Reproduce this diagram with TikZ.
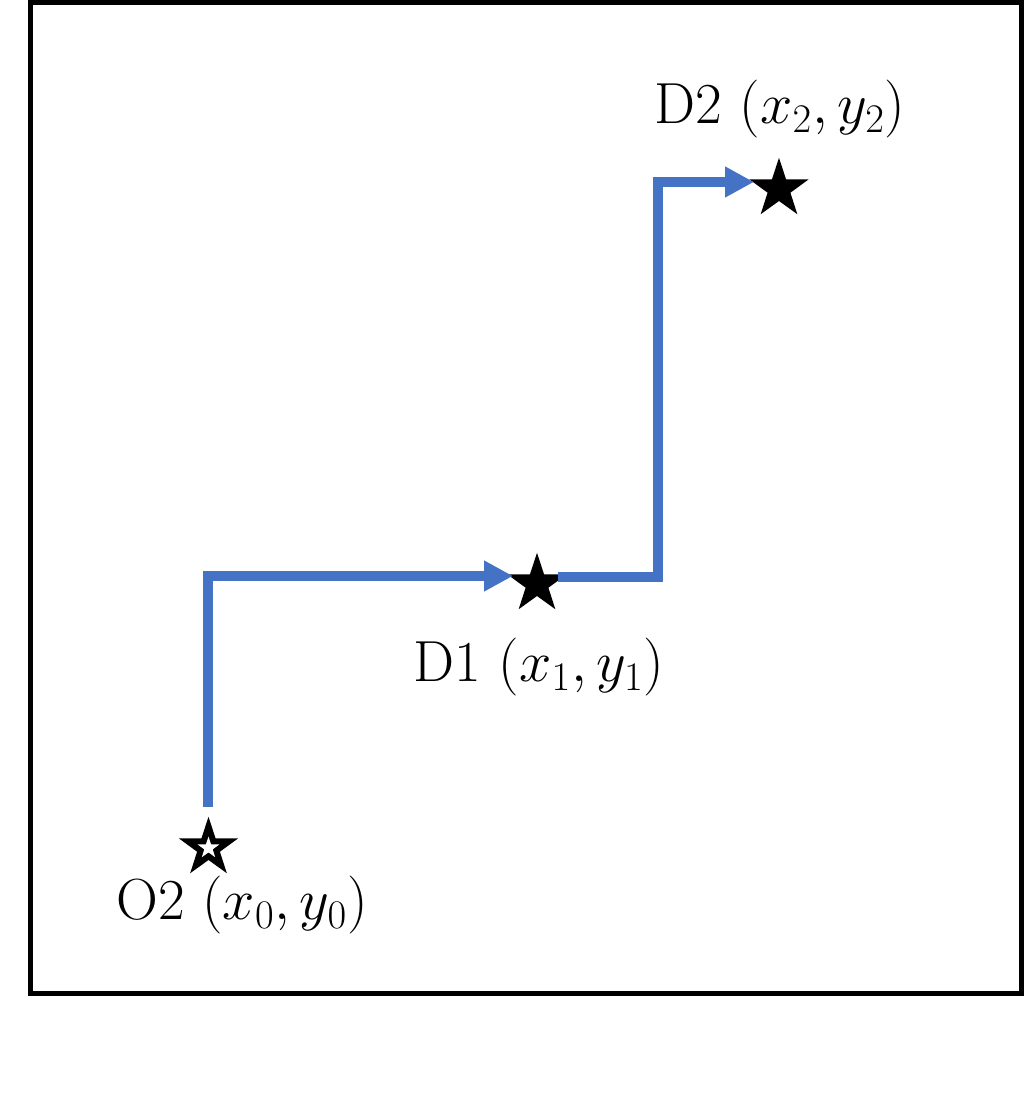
\documentclass[tikz,border=0pt]{standalone}
\usepackage{fix-cm}
\usetikzlibrary{shapes.geometric,arrows.meta,calc}
\definecolor{flowblue}{RGB}{68,114,196}
\tikzset{
  pt/.style={star,star points=5,star point ratio=2.6,inner sep=0pt,minimum size=35.5pt,fill=black,draw=none},
  hole/.style={star,star points=5,star point ratio=2.6,inner sep=0pt,minimum size=13pt,fill=white,draw=none},
  lbl/.style={font=\fontsize{33}{38}\selectfont,inner sep=0pt},
  flow/.style={draw=flowblue,line width=5.7pt,-{Triangle[length=16.5pt,width=16.5pt]}}
}
\begin{document}
\begin{tikzpicture}[x=0.02cm,y=-0.02cm]
\useasboundingbox (0,0) rectangle (1024,1095);
\fill[white] (0,0) rectangle (1024,1095);
\draw[line width=2.85pt] (30.5,2.5) rectangle (1021,993.5);
% stars
\node[pt] (o2) at (208.5,848) {};
\node[hole] (o2h) at (208.5,848) {};
\node[pt] (d1) at (537,584) {};
\node[pt] (d2) at (779,189) {};
% labels
\node[lbl] (lo2) at (242,905) {O2 $(x_0,y_0)$};
\node[lbl] (ld1) at (539,667) {D1 $(x_1,y_1)$};
\node[lbl] (ld2) at (780,109) {D2 $(x_2,y_2)$};
% connectors
\coordinate (s1) at (208,807);
\coordinate (t1) at (513,576);
\coordinate (s2) at (558,577);
\coordinate (t2) at (754,182);
\draw[flow] (s1) |- (t1);
\draw[flow] (s2) -| (658,380) |- (t2);
\end{tikzpicture}
\end{document}
